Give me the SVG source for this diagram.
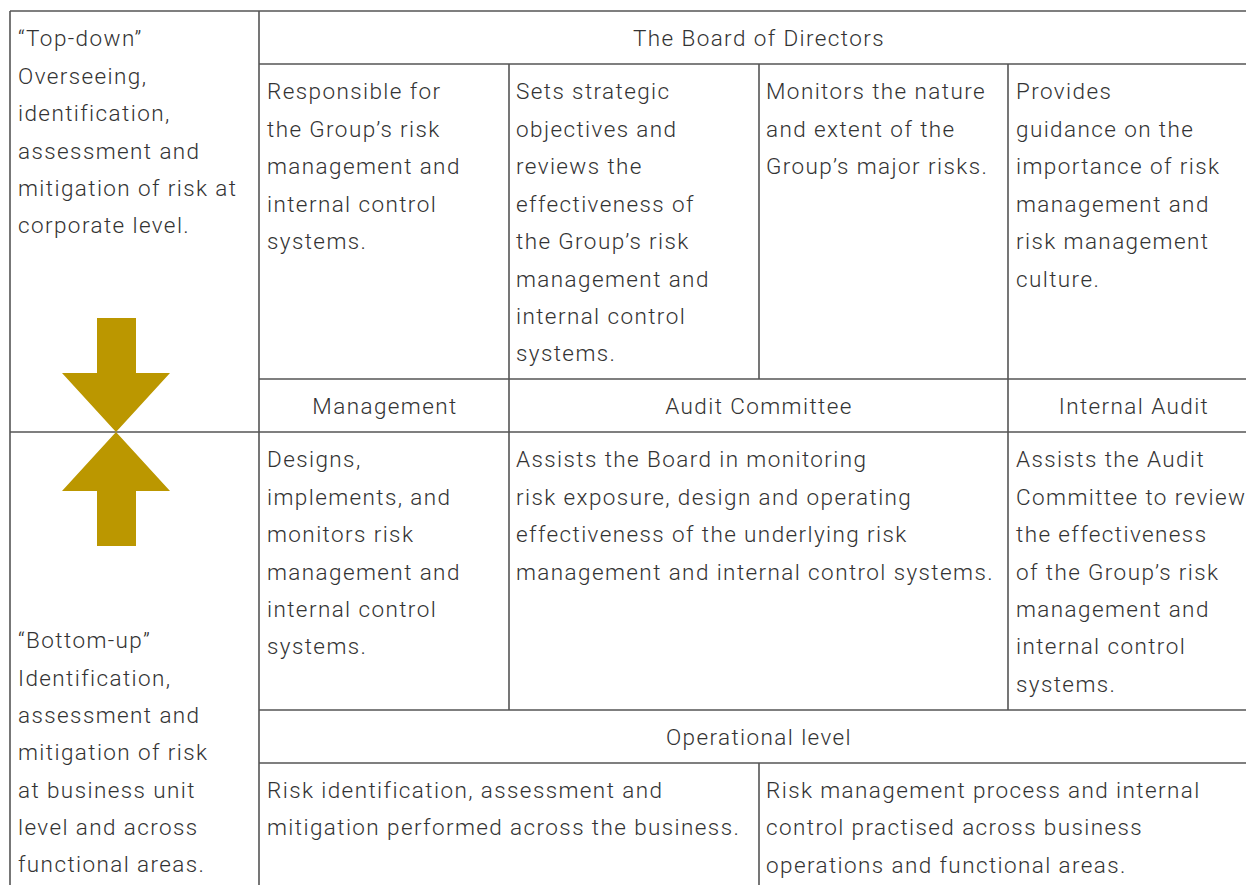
<svg xmlns="http://www.w3.org/2000/svg" width="1246" height="885" viewBox="0 0 1246 885">
<style>
text{font-family:Roboto,"Liberation Sans",sans-serif;font-weight:300;font-size:22.5px;letter-spacing:1.4px;fill:#333;}
.c{text-anchor:middle;}
.ln{stroke:#555;stroke-width:1.6;fill:none;}
.arr{fill:#BB9700;}
</style>
<rect width="1246" height="885" fill="#fff"/>
<g id="grid">
<path class="ln" d="M10 11H1246 M10 11V885 M259 11V885 M259 64H1246 M509 64V379 M759 64V379 M1008 64V379 M259 379H1246 M10 432H1246 M509 379V710 M1008 379V710 M259 710H1246 M259 763H1246 M759 763V885"/>
</g>
<g id="arrows">
<polygon class="arr" points="97,318 136,318 136,373 170,373 116,432 62,373 97,373"/>
<polygon class="arr" points="97,546 136,546 136,491 170,491 116,432 62,491 97,491"/>
</g>
<g id="topdown">
<text x="18" y="46">“Top-down”</text>
<text x="18" y="84">Overseeing,</text>
<text x="18" y="121">identification,</text>
<text x="18" y="159">assessment and</text>
<text x="18" y="196">mitigation of risk at</text>
<text x="18" y="233">corporate level.</text>
</g>
<g id="board"><text class="c" x="759" y="46">The Board of Directors</text></g>
<g id="b1">
<text x="267" y="99">Responsible for</text>
<text x="267" y="137">the Group’s risk</text>
<text x="267" y="174">management and</text>
<text x="267" y="212">internal control</text>
<text x="267" y="249">systems.</text>
</g>
<g id="b2">
<text x="516" y="99">Sets strategic</text>
<text x="516" y="137">objectives and</text>
<text x="516" y="174">reviews the</text>
<text x="516" y="212">effectiveness of</text>
<text x="516" y="249">the Group’s risk</text>
<text x="516" y="287">management and</text>
<text x="516" y="324">internal control</text>
<text x="516" y="361">systems.</text>
</g>
<g id="b3">
<text x="766" y="99">Monitors the nature</text>
<text x="766" y="137">and extent of the</text>
<text x="766" y="174">Group’s major risks.</text>
</g>
<g id="b4">
<text x="1016" y="99">Provides</text>
<text x="1016" y="137">guidance on the</text>
<text x="1016" y="174">importance of risk</text>
<text x="1016" y="212">management and</text>
<text x="1016" y="249">risk management</text>
<text x="1016" y="287">culture.</text>
</g>
<g id="management"><text class="c" x="385" y="414">Management</text></g>
<g id="audit"><text class="c" x="759" y="414">Audit Committee</text></g>
<g id="internal"><text class="c" x="1134" y="414">Internal Audit</text></g>
<g id="m1">
<text x="267" y="467">Designs,</text>
<text x="267" y="505">implements, and</text>
<text x="267" y="542">monitors risk</text>
<text x="267" y="580">management and</text>
<text x="267" y="617">internal control</text>
<text x="267" y="654">systems.</text>
</g>
<g id="a1">
<text x="516" y="467">Assists the Board in monitoring</text>
<text x="516" y="505">risk exposure, design and operating</text>
<text x="516" y="542">effectiveness of the underlying risk</text>
<text x="516" y="580">management and internal control systems.</text>
</g>
<g id="i1">
<text x="1016" y="467">Assists the Audit</text>
<text x="1016" y="505">Committee to review</text>
<text x="1016" y="542">the effectiveness</text>
<text x="1016" y="580">of the Group’s risk</text>
<text x="1016" y="617">management and</text>
<text x="1016" y="654">internal control</text>
<text x="1016" y="692">systems.</text>
</g>
<g id="bottomup">
<text x="18" y="648">“Bottom-up”</text>
<text x="18" y="686">Identification,</text>
<text x="18" y="723">assessment and</text>
<text x="18" y="760">mitigation of risk</text>
<text x="18" y="798">at business unit</text>
<text x="18" y="835">level and across</text>
<text x="18" y="872">functional areas.</text>
</g>
<g id="operational"><text class="c" x="759" y="745">Operational level</text></g>
<g id="o1">
<text x="267" y="798">Risk identification, assessment and</text>
<text x="267" y="835">mitigation performed across the business.</text>
</g>
<g id="o2">
<text x="766" y="798">Risk management process and internal</text>
<text x="766" y="835">control practised across business</text>
<text x="766" y="873">operations and functional areas.</text>
</g>
</svg>
